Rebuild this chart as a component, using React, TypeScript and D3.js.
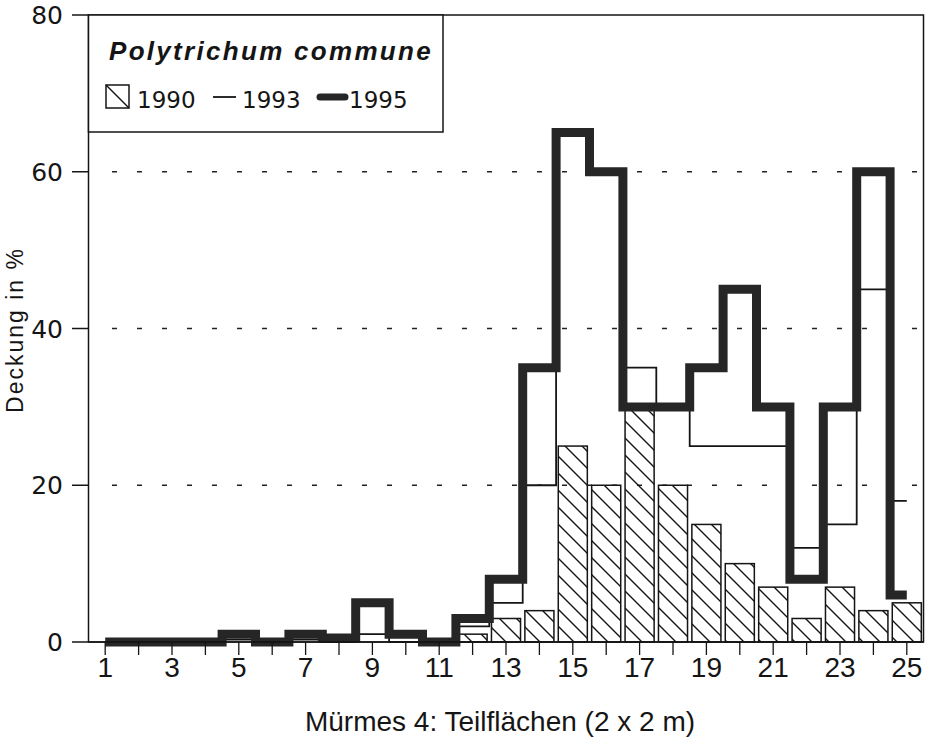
import * as d3 from "d3";

// Teilflächen 1..25 (Mürmes 4), Deckung in %
const plots = [1, 2, 3, 4, 5, 6, 7, 8, 9, 10, 11, 12, 13, 14, 15, 16, 17, 18, 19, 20, 21, 22, 23, 24, 25];
const cover1990 = [0, 0, 0, 0, 0, 0, 0, 0, 0, 0, 0, 1, 3, 4, 25, 20, 30, 20, 15, 10, 7, 3, 7, 4, 5];
const cover1993 = [0, 0, 0, 0, 0.3, 0, 0.3, 0, 1, 0, 0, 2, 5, 20, 65, 60, 35, 30, 25, 25, 25, 12, 15, 45, 18];
const cover1995 = [0, 0, 0, 0, 1, 0, 1, 0.5, 5, 1, 0, 3, 8, 35, 65, 60, 30, 30, 35, 45, 30, 8, 30, 60, 6];
const yTicks = [0, 20, 40, 60, 80];
const gridValues = [20, 40, 60];
const xLabels = [1, 3, 5, 7, 9, 11, 13, 15, 17, 19, 21, 23, 25];

const WIDTH = 933;
const HEIGHT = 742;
const left = 88.5;
const right = 923.5;
const top = 15;
const bottom = 642;

const x = d3
  .scaleBand<number>()
  .domain(plots)
  .range([left, right])
  .paddingInner(0.13)
  .paddingOuter(0.065);
const y = d3.scaleLinear().domain([0, 80]).range([bottom, top]);
const cx = (d: number) => (x(d) ?? 0) + x.bandwidth() / 2;

// steps change halfway between plots, from centre of plot 1 to centre of plot 25
const stepLine = d3
  .line<number>()
  .x((_, i) => cx(plots[i]))
  .y((d) => y(d))
  .curve(d3.curveStep);

const sans = "'Liberation Sans', Arial, sans-serif";
const narrow = "'Liberation Sans Narrow', 'Arial Narrow', 'Liberation Sans', sans-serif";
const round = "'DejaVu Sans', sans-serif";
const ink = "#151515";

export default function App() {
  return (
    <svg
      width={WIDTH}
      height={HEIGHT}
      style={{ position: "absolute", left: 0, top: 0, background: "#fff" }}
    >
      <defs>
        <pattern id="hatch" patternUnits="userSpaceOnUse" width="17" height="17">
          <path d="M-1,-1 L18,18 M-1,16 L1,18 M16,-1 L18,1" stroke={ink} strokeWidth="1.4" />
        </pattern>
      </defs>

      {/* dashed grid */}
      {gridValues.map((v) => (
        <line
          key={v}
          x1={112}
          x2={right}
          y1={y(v)}
          y2={y(v)}
          stroke="#222"
          strokeWidth={1.5}
          strokeDasharray="5 20"
        />
      ))}

      {/* 1990 hatched bars */}
      {plots.map((p, i) =>
        cover1990[i] > 0 ? (
          <rect
            key={p}
            x={x(p)}
            y={y(cover1990[i])}
            width={x.bandwidth()}
            height={bottom - y(cover1990[i])}
            fill="url(#hatch)"
            stroke={ink}
            strokeWidth={1.5}
          />
        ) : null
      )}

      {/* 1993 thin step line */}
      <path d={stepLine(cover1993) ?? ""} fill="none" stroke={ink} strokeWidth={1.8} />

      {/* 1995 thick step line */}
      <path d={stepLine(cover1995) ?? ""} fill="none" stroke="#262626" strokeWidth={9} strokeLinejoin="miter" />

      {/* frame */}
      <rect x={left} y={top} width={right - left} height={bottom - top} fill="none" stroke={ink} strokeWidth={1.5} />

      {/* legend */}
      <rect x={left} y={top} width={354.5} height={117} fill="#fff" stroke={ink} strokeWidth={1.5} />
      <text
        x={109}
        y={60}
        fontFamily={sans}
        fontSize={26}
        fontWeight="bold"
        fontStyle="italic"
        letterSpacing={2.3}
        fill={ink}
      >
        Polytrichum commune
      </text>
      <rect x={106} y={85} width={23} height={23} fill="#fff" stroke={ink} strokeWidth={1.5} />
      <line x1={106} y1={85} x2={129} y2={108} stroke={ink} strokeWidth={1.5} />
      <text x={137} y={108} fontFamily={round} fontSize={23} fill={ink}>1990</text>
      <line x1={213} x2={236} y1={97} y2={97} stroke={ink} strokeWidth={1.8} />
      <text x={242} y={108} fontFamily={round} fontSize={23} fill={ink}>1993</text>
      <line x1={320} x2={345} y1={97} y2={97} stroke="#262626" strokeWidth={7} strokeLinecap="round" />
      <text x={349} y={108} fontFamily={round} fontSize={23} fill={ink}>1995</text>

      {/* y axis */}
      {yTicks.map((t) => (
        <g key={t}>
          <line x1={72} x2={left} y1={y(t)} y2={y(t)} stroke={ink} strokeWidth={1.5} />
          <text x={63} y={y(t)} dy="0.36em" textAnchor="end" fontFamily={round} fontSize={25} fill={ink}>
            {t}
          </text>
        </g>
      ))}
      <text
        transform="translate(23,330) rotate(-90)"
        textAnchor="middle"
        fontFamily={sans}
        fontSize={23}
        letterSpacing={2}
        fill={ink}
      >
        Deckung in %
      </text>

      {/* x axis */}
      <line x1={left} x2={right} y1={bottom} y2={bottom} stroke={ink} strokeWidth={1.5} />
      {plots.map((p) => (
        <line key={p} x1={cx(p)} x2={cx(p)} y1={bottom} y2={bottom + 13} stroke={ink} strokeWidth={1.3} />
      ))}
      {xLabels.map((p) => (
        <text key={p} x={cx(p)} y={677} textAnchor="middle" fontFamily={narrow} fontSize={28} fill={ink}>
          {p}
        </text>
      ))}
      <text x={500} y={731} textAnchor="middle" fontFamily={narrow} fontSize={28} fill={ink}>
        Mürmes 4: Teilflächen (2 x 2 m)
      </text>
    </svg>
  );
}
